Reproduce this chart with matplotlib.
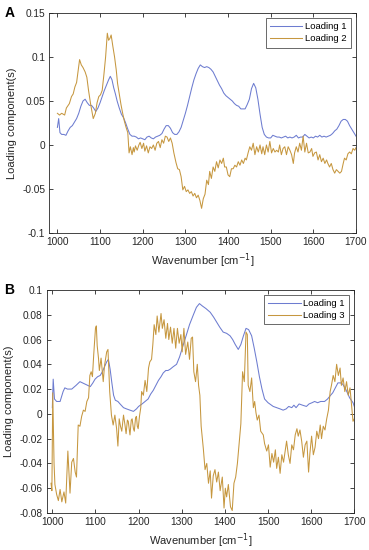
import matplotlib.pyplot as plt
from matplotlib.ticker import FuncFormatter

plt.rcParams['font.family'] = ['Liberation Sans', 'DejaVu Sans']

# ---- panel A: loading 1 ----
wn_a1 = [1000, 1003, 1006, 1010, 1015, 1020, 1025, 1030, 1035, 1040, 1045, 1050, 1055, 1060,
         1065, 1070, 1075, 1080, 1085, 1090, 1095, 1100, 1105, 1110, 1115, 1120, 1124, 1128,
         1132, 1136, 1140, 1145, 1150, 1155, 1160, 1165, 1170, 1175, 1180, 1185, 1190, 1195,
         1200, 1205, 1210, 1215, 1220, 1225, 1230, 1235, 1240, 1245, 1250, 1255, 1260, 1265,
         1270, 1275, 1280, 1285, 1290, 1295, 1300, 1305, 1310, 1315, 1320, 1325, 1330, 1335,
         1340, 1345, 1350, 1355, 1360, 1365, 1370, 1375, 1380, 1385, 1390, 1395, 1400, 1405,
         1410, 1415, 1420, 1425, 1430, 1435, 1440, 1445, 1450, 1455, 1460, 1465, 1470, 1475,
         1480, 1485, 1490, 1495, 1500, 1505, 1510, 1515, 1520, 1525, 1530, 1535, 1540, 1545,
         1550, 1555, 1560, 1565, 1570, 1575, 1580, 1585, 1590, 1595, 1600, 1605, 1610, 1615,
         1620, 1625, 1630, 1635, 1640, 1645, 1650, 1655, 1660, 1665, 1670, 1675, 1680, 1685,
         1690, 1695, 1700]
load_a1 = [0.020, 0.030, 0.014, 0.012, 0.012, 0.011, 0.016, 0.020, 0.022, 0.026, 0.030, 0.036,
           0.044, 0.050, 0.052, 0.048, 0.045, 0.045, 0.042, 0.038, 0.042, 0.048, 0.055, 0.062,
           0.068, 0.074, 0.078, 0.074, 0.065, 0.058, 0.050, 0.042, 0.035, 0.031, 0.025, 0.018,
           0.012, 0.010, 0.010, 0.009, 0.007, 0.008, 0.007, 0.006, 0.009, 0.010, 0.008, 0.007,
           0.009, 0.010, 0.011, 0.013, 0.018, 0.022, 0.022, 0.019, 0.014, 0.012, 0.012, 0.015,
           0.020, 0.028, 0.036, 0.045, 0.055, 0.065, 0.074, 0.081, 0.087, 0.091, 0.089, 0.088,
           0.089, 0.088, 0.086, 0.083, 0.078, 0.073, 0.068, 0.064, 0.059, 0.056, 0.054, 0.052,
           0.050, 0.047, 0.045, 0.044, 0.041, 0.041, 0.041, 0.046, 0.052, 0.064, 0.070, 0.065,
           0.052, 0.035, 0.020, 0.012, 0.009, 0.008, 0.008, 0.011, 0.010, 0.009, 0.009, 0.008,
           0.009, 0.010, 0.008, 0.009, 0.008, 0.009, 0.011, 0.008, 0.009, 0.009, 0.012, 0.010,
           0.008, 0.009, 0.008, 0.010, 0.009, 0.011, 0.009, 0.010, 0.009, 0.010, 0.011, 0.013,
           0.016, 0.018, 0.022, 0.027, 0.029, 0.029, 0.027, 0.022, 0.018, 0.014, 0.010]

# ---- panel A: loading 2 ----
wn_a2 = [1000, 1005, 1010, 1017, 1021, 1028, 1033, 1037, 1041, 1045, 1048, 1052, 1056, 1060,
         1065, 1069, 1073, 1078, 1084, 1089, 1093, 1097, 1101, 1105, 1109, 1113, 1117, 1120,
         1123, 1126, 1130, 1134, 1138, 1141, 1145, 1149, 1153, 1157, 1161, 1165, 1168, 1171,
         1175, 1178, 1180, 1183, 1187, 1191, 1194, 1198, 1202, 1205, 1209, 1213, 1217, 1221,
         1225, 1229, 1233, 1237, 1241, 1245, 1249, 1253, 1257, 1261, 1265, 1269, 1273, 1278,
         1282, 1286, 1290, 1294, 1298, 1302, 1306, 1310, 1314, 1318, 1322, 1326, 1330, 1334,
         1338, 1342, 1346, 1350, 1354, 1357, 1361, 1365, 1369, 1373, 1377, 1381, 1385, 1389,
         1392, 1396, 1400, 1404, 1408, 1412, 1416, 1420, 1424, 1428, 1432, 1436, 1440, 1443,
         1447, 1451, 1455, 1459, 1463, 1467, 1471, 1475, 1479, 1482, 1486, 1490, 1494, 1498,
         1502, 1506, 1510, 1514, 1518, 1521, 1525, 1529, 1533, 1537, 1541, 1545, 1549, 1553,
         1556, 1560, 1564, 1568, 1572, 1576, 1580, 1584, 1588, 1592, 1596, 1599, 1603, 1607,
         1611, 1615, 1619, 1623, 1627, 1631, 1634, 1638, 1642, 1646, 1650, 1654, 1658, 1662,
         1666, 1670, 1673, 1677, 1681, 1685, 1689, 1693, 1697, 1700]
load_a2 = [0.036, 0.034, 0.036, 0.034, 0.042, 0.047, 0.055, 0.058, 0.066, 0.071, 0.082, 0.097,
           0.091, 0.088, 0.083, 0.077, 0.062, 0.046, 0.030, 0.036, 0.048, 0.055, 0.057, 0.062,
           0.080, 0.100, 0.127, 0.119, 0.121, 0.125, 0.112, 0.100, 0.085, 0.070, 0.058, 0.046,
           0.036, 0.027, 0.020, 0.014, -0.009, -0.002, -0.011, -0.003, -0.008, -0.001, -0.006,
           0.000, 0.003, -0.004, 0.002, -0.007, -0.001, -0.009, -0.002, -0.004, 0.000, -0.006,
           0.002, 0.004, -0.003, 0.006, 0.002, 0.010, 0.009, 0.004, 0.008, 0.002, -0.009,
           -0.020, -0.027, -0.028, -0.036, -0.051, -0.047, -0.053, -0.051, -0.055, -0.053,
           -0.058, -0.055, -0.060, -0.057, -0.063, -0.072, -0.061, -0.056, -0.040, -0.045,
           -0.030, -0.038, -0.025, -0.030, -0.019, -0.026, -0.017, -0.021, -0.015, -0.025,
           -0.025, -0.034, -0.036, -0.027, -0.027, -0.023, -0.025, -0.019, -0.023, -0.017,
           -0.021, -0.015, -0.017, -0.009, -0.002, -0.006, 0.002, -0.011, -0.002, -0.008,
           0.000, -0.010, -0.002, -0.011, 0.000, -0.008, 0.004, -0.009, -0.004, -0.008,
           -0.006, -0.008, 0.000, -0.011, -0.004, -0.002, -0.011, -0.002, -0.006, -0.011,
           -0.021, -0.009, -0.002, -0.008, 0.002, -0.006, 0.010, -0.008, 0.002, -0.009,
           -0.008, -0.004, -0.013, -0.009, -0.008, -0.017, -0.011, -0.019, -0.015, -0.021,
           -0.017, -0.021, -0.025, -0.021, -0.028, -0.032, -0.028, -0.030, -0.032, -0.030,
           -0.021, -0.015, -0.017, -0.010, -0.008, -0.010, -0.004, -0.006, -0.003]

# ---- panel B: loading 1 ----
wn_b1 = [1000, 1002, 1005, 1010, 1018, 1025, 1029, 1035, 1045, 1055, 1064, 1070, 1076, 1082,
         1088, 1094, 1099, 1105, 1111, 1116, 1121, 1126, 1130, 1134, 1138, 1142, 1146, 1152,
         1157, 1165, 1172, 1180, 1188, 1195, 1200, 1208, 1215, 1222, 1228, 1234, 1240, 1246,
         1252, 1257, 1263, 1268, 1273, 1280, 1288, 1295, 1302, 1311, 1318, 1327, 1334, 1341,
         1348, 1356, 1366, 1374, 1381, 1388, 1396, 1404, 1412, 1418, 1424, 1431, 1437, 1443,
         1449, 1455, 1462, 1468, 1474, 1480, 1486, 1492, 1500, 1512, 1520, 1528, 1535, 1542,
         1548, 1555, 1560, 1565, 1572, 1580, 1589, 1595, 1602, 1608, 1615, 1622, 1631, 1638,
         1645, 1650, 1656, 1662, 1668, 1673, 1680, 1689, 1697, 1700]
load_b1 = [0.005, 0.028, 0.012, 0.010, 0.010, 0.018, 0.021, 0.020, 0.020, 0.023, 0.026, 0.025,
           0.024, 0.023, 0.022, 0.025, 0.028, 0.030, 0.031, 0.034, 0.038, 0.042, 0.044, 0.036,
           0.025, 0.015, 0.011, 0.010, 0.008, 0.005, 0.004, 0.003, 0.002, 0.004, 0.006, 0.008,
           0.010, 0.012, 0.016, 0.019, 0.023, 0.027, 0.030, 0.033, 0.035, 0.035, 0.036, 0.038,
           0.040, 0.046, 0.054, 0.064, 0.072, 0.080, 0.086, 0.089, 0.087, 0.085, 0.082, 0.078,
           0.074, 0.070, 0.066, 0.065, 0.063, 0.060, 0.056, 0.052, 0.056, 0.063, 0.069, 0.068,
           0.063, 0.053, 0.042, 0.030, 0.020, 0.012, 0.009, 0.006, 0.005, 0.004, 0.003, 0.004,
           0.006, 0.005, 0.007, 0.005, 0.008, 0.007, 0.006, 0.008, 0.009, 0.010, 0.009, 0.010,
           0.010, 0.012, 0.015, 0.017, 0.021, 0.025, 0.025, 0.024, 0.020, 0.013, 0.009, 0.006]

# ---- panel B: loading 3 ----
wn_b3 = [997, 999, 1001, 1004, 1006, 1010, 1014, 1018, 1022, 1027, 1031, 1036, 1041, 1045,
         1049, 1053, 1056, 1060, 1064, 1068, 1072, 1076, 1080, 1084, 1087, 1090, 1093, 1096,
         1100, 1102, 1104, 1107, 1109, 1113, 1118, 1121, 1126, 1129, 1133, 1137, 1141, 1145,
         1149, 1152, 1155, 1158, 1161, 1165, 1168, 1171, 1174, 1176, 1180, 1183, 1185, 1188,
         1190, 1193, 1195, 1197, 1199, 1202, 1205, 1207, 1211, 1215, 1219, 1223, 1226, 1230,
         1233, 1236, 1240, 1243, 1247, 1252, 1255, 1259, 1263, 1267, 1270, 1274, 1278, 1282,
         1286, 1290, 1294, 1298, 1301, 1305, 1309, 1314, 1318, 1322, 1325, 1328, 1332, 1336,
         1339, 1342, 1345, 1350, 1354, 1358, 1362, 1366, 1369, 1373, 1377, 1381, 1385, 1389,
         1394, 1398, 1401, 1404, 1408, 1413, 1417, 1421, 1425, 1429, 1433, 1437, 1441, 1445,
         1449, 1452, 1454, 1458, 1462, 1466, 1469, 1472, 1475, 1479, 1483, 1489, 1492, 1497,
         1501, 1505, 1509, 1513, 1517, 1520, 1524, 1528, 1532, 1536, 1540, 1543, 1547, 1551,
         1555, 1559, 1563, 1567, 1570, 1574, 1578, 1582, 1586, 1590, 1594, 1597, 1601, 1605,
         1609, 1613, 1617, 1621, 1624, 1628, 1632, 1636, 1640, 1644, 1647, 1651, 1655, 1659,
         1663, 1667, 1670, 1674, 1678, 1682, 1686, 1690, 1694, 1697, 1700]
load_b3 = [-0.056, -0.062, 0.017, -0.040, -0.057, -0.065, -0.070, -0.061, -0.071, -0.063,
           -0.072, -0.030, -0.064, -0.039, -0.036, -0.047, -0.051, -0.009, -0.010, -0.002,
           0.003, 0.002, 0.010, 0.013, 0.031, 0.034, 0.030, 0.048, 0.069, 0.071, 0.055,
           0.045, 0.035, 0.045, 0.026, 0.039, 0.050, 0.052, 0.018, -0.001, -0.009, -0.001,
           -0.012, -0.026, -0.004, -0.010, -0.014, -0.001, -0.008, -0.016, -0.005, -0.006,
           -0.017, -0.005, -0.004, -0.012, -0.014, -0.003, -0.002, -0.010, -0.012, -0.002,
           0.005, 0.018, 0.015, 0.027, 0.018, 0.037, 0.042, 0.044, 0.056, 0.072, 0.064,
           0.079, 0.066, 0.081, 0.069, 0.076, 0.061, 0.073, 0.060, 0.070, 0.057, 0.069,
           0.053, 0.069, 0.057, 0.064, 0.050, 0.069, 0.048, 0.058, 0.044, 0.061, 0.062,
           0.034, 0.026, 0.040, 0.023, 0.015, -0.010, -0.028, -0.045, -0.040, -0.056,
           -0.046, -0.068, -0.050, -0.045, -0.055, -0.047, -0.062, -0.051, -0.076, -0.060,
           -0.067, -0.057, -0.075, -0.078, -0.056, -0.051, -0.040, -0.024, -0.008, 0.034,
           0.026, 0.066, 0.064, 0.023, 0.018, 0.029, 0.005, 0.010, 0.001, -0.005, -0.001,
           -0.014, -0.017, -0.024, -0.030, -0.025, -0.043, -0.032, -0.039, -0.029, -0.044,
           -0.035, -0.048, -0.033, -0.039, -0.029, -0.022, -0.033, -0.040, -0.025, -0.029,
           -0.017, -0.012, -0.018, -0.013, -0.022, -0.035, -0.025, -0.022, -0.047, -0.032,
           -0.018, -0.033, -0.027, -0.014, -0.020, -0.009, -0.020, -0.010, -0.013, -0.004,
           0.003, 0.018, 0.023, 0.031, 0.026, 0.040, 0.031, 0.037, 0.023, 0.029, 0.018,
           0.026, 0.015, 0.021, 0.005, -0.006, -0.004]

BLUE = '#6d7cd0'
GOLD = '#c6973f'
AX_COLOR = '#262626'


def style_axes(ax, xlim, ylim, yticks):
    ax.set_xlim(*xlim)
    ax.set_ylim(*ylim)
    ax.set_xticks(range(1000, 1701, 100))
    ax.set_yticks(yticks)
    ax.yaxis.set_major_formatter(FuncFormatter(lambda v, p: '{:g}'.format(round(v, 4))))
    ax.tick_params(direction='in', length=3, width=0.6, top=True, right=True,
                   labelsize=7.3, colors=AX_COLOR, pad=3)
    for sp in ax.spines.values():
        sp.set_color(AX_COLOR)
        sp.set_linewidth(0.6)
    ax.set_xlabel('Wavenumber [cm$^{-1}$]', fontsize=8, color=AX_COLOR, labelpad=3)
    ax.set_ylabel('Loading component(s)', fontsize=8, color=AX_COLOR, labelpad=4)


def add_legend(ax):
    leg = ax.legend(loc='upper right', fontsize=6.8, frameon=True, fancybox=False,
                    edgecolor=AX_COLOR, handlelength=3.4, borderpad=0.45,
                    labelspacing=0.3, borderaxespad=0.55, handletextpad=0.3)
    leg.get_frame().set_linewidth(0.6)


fig = plt.figure(figsize=(3.69, 5.5), dpi=100)

ax1 = fig.add_axes([0.1336, 0.5764, 0.8312, 0.4])
ax1.plot(wn_a1, load_a1, color=BLUE, lw=0.75, label='Loading 1')
ax1.plot(wn_a2, load_a2, color=GOLD, lw=0.75, label='Loading 2')
style_axes(ax1, (981, 1700), (-0.1, 0.15), [-0.1, -0.05, 0, 0.05, 0.1, 0.15])
add_legend(ax1)

ax2 = fig.add_axes([0.1266, 0.0673, 0.8336, 0.4055])
ax2.plot(wn_b1, load_b1, color=BLUE, lw=0.75, label='Loading 1')
ax2.plot(wn_b3, load_b3, color=GOLD, lw=0.75, label='Loading 3')
style_axes(ax2, (987, 1700), (-0.08, 0.1),
           [-0.08, -0.06, -0.04, -0.02, 0, 0.02, 0.04, 0.06, 0.08, 0.1])
add_legend(ax2)

fig.text(0.012, 0.976, 'A', fontsize=10, fontweight='bold', va='center', ha='left')
fig.text(0.012, 0.473, 'B', fontsize=10, fontweight='bold', va='center', ha='left')

fig.savefig('out.png', dpi=100)
